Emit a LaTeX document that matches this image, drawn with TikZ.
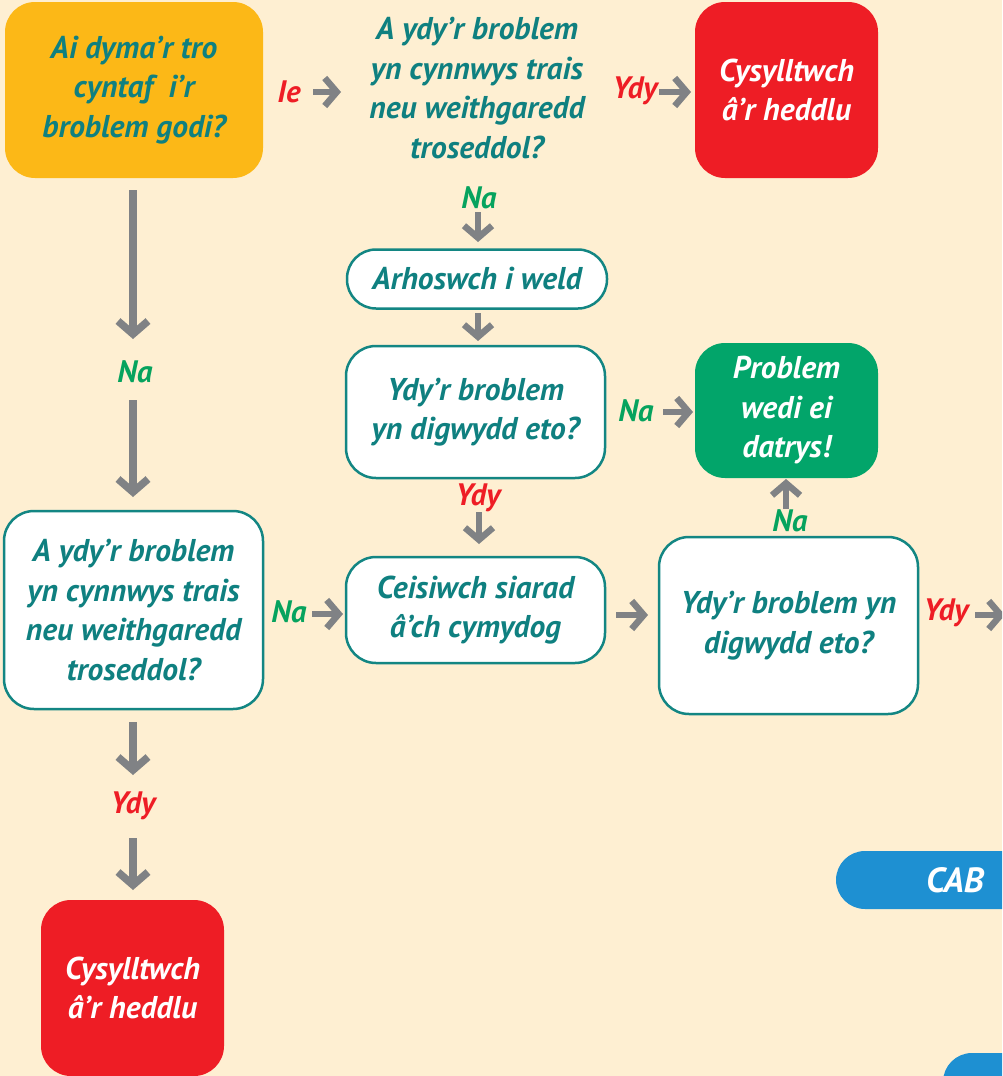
\documentclass[tikz,border=0pt]{standalone}
\usepackage{fontspec}
\setmainfont{PT Sans}
\usetikzlibrary{arrows.meta}
\definecolor{bg}{HTML}{FEEFD2}
\definecolor{orangebox}{HTML}{FCB817}
\definecolor{tealtext}{HTML}{0F8080}
\definecolor{tealline}{HTML}{138683}
\definecolor{redbox}{HTML}{EE1D25}
\definecolor{greenbox}{HTML}{02A56A}
\definecolor{greentext}{HTML}{06A35E}
\definecolor{arrgray}{HTML}{808285}
\definecolor{bluetab}{HTML}{1E90D2}
\begin{document}
\begin{tikzpicture}[x=1pt,y=-1pt,
  txt/.style={font=\fontsize{31.5}{39.5}\selectfont\bfseries\itshape, align=center, inner sep=0pt},
  box/.style={txt, rounded corners=30pt},
  wbox/.style={box, fill=white, draw=tealline, line width=2.5pt, text=tealtext},
  lab/.style={font=\fontsize{31}{34}\selectfont\bfseries\itshape, inner sep=0pt},
  yes/.style={lab, text=redbox},
  no/.style={lab, text=greentext},
  arr/.style={draw=arrgray, line width=6.5pt, -{Straight Barb[length=12pt,width=28pt]}},
  longarr/.style={draw=arrgray, line width=7.5pt, -{Straight Barb[length=13pt,width=30pt]}}
]
\useasboundingbox (0,0) rectangle (1002,1076);
\clip (0,0) rectangle (1002,1076);
\fill[bg] (0,0) rectangle (1002,1076);

% boxes
\node[box, fill=orangebox, text=tealtext, minimum width=258pt, minimum height=176pt] (n1) at (134,90)
  {Ai dyma’r tro\\cyntaf\ \ i’r\\broblem godi?};
\node[txt, text=tealtext, minimum width=260pt] (q2) at (477,88)
  {A ydy’r broblem\\yn cynnwys trais\\neu weithgaredd\\troseddol?};
\node[box, fill=redbox, text=white, minimum width=183pt, minimum height=176pt] (r1) at (786.5,90)
  {Cysylltwch\\â’r heddlu};
\node[wbox, rounded corners=29pt, minimum width=260pt, minimum height=59pt] (wait) at (477,279)
  {Arhoswch i weld};
\node[wbox, minimum width=259pt, minimum height=132pt] (q3) at (475.5,412)
  {Ydy’r broblem\\yn digwydd eto?};
\node[box, fill=greenbox, text=white, minimum width=183pt, minimum height=135pt] (g1) at (786.5,410.5)
  {Problem\\wedi ei\\datrys!};
\node[wbox, minimum width=259pt, minimum height=106pt] (c1) at (475.5,610)
  {Ceisiwch siarad\\â’ch cymydog};
\node[wbox, minimum width=259pt, minimum height=177pt] (q4) at (788.5,625.5)
  {Ydy’r broblem yn\\digwydd eto?};
\node[wbox, minimum width=259pt, minimum height=198pt] (q5) at (133.5,610)
  {A ydy’r broblem\\yn cynnwys trais\\neu weithgaredd\\troseddol?};
\node[box, fill=redbox, text=white, minimum width=183pt, minimum height=176pt] (r2) at (132.5,988)
  {Cysylltwch\\â’r heddlu};

% CAB tabs
\node[txt, fill=bluetab, text=white, rounded corners=29pt, minimum width=196pt, minimum height=58pt,
  font=\fontsize{35}{38}\selectfont\bfseries\itshape] (cab) at (934,880) {\hspace*{42pt}CAB};
\node[fill=bluetab, rounded corners=29pt, minimum width=90pt, minimum height=58pt, inner sep=0pt] (tab2) at (988,1082) {};

% labels
\node[yes] (ie) at (289,92) {Ie};
\node[yes] (ydy1) at (635,91) {Ydy};
\node[no] (na1) at (479,198) {Na};
\node[no] (na2) at (636,411) {Na};
\node[yes] (ydy2) at (478,498) {Ydy};
\node[no] (na3) at (790,521) {Na};
\node[yes] (ydy3) at (946,613) {Ydy};
\node[no] (na4) at (289,612) {Na};
\node[no] (na5) at (135,372) {Na};
\node[yes] (ydy4) at (133,806) {Ydy};

% arrow end points
\coordinate (a1s) at (313,92);  \coordinate (a1e) at (341,92);
\coordinate (a2s) at (659,92);  \coordinate (a2e) at (691,92);
\coordinate (a3s) at (478,212); \coordinate (a3e) at (478,242);
\coordinate (a4s) at (478,313); \coordinate (a4e) at (478,341);
\coordinate (a5s) at (663,412); \coordinate (a5e) at (693,412);
\coordinate (a6s) at (479,512); \coordinate (a6e) at (479,544);
\coordinate (a7s) at (786,509); \coordinate (a7e) at (786,479);
\coordinate (a8s) at (616,615); \coordinate (a8e) at (648,615);
\coordinate (a9s) at (975,615); \coordinate (a9e) at (1005,615);
\coordinate (a10s) at (312,614); \coordinate (a10e) at (343,614);
\coordinate (a11s) at (133,190); \coordinate (a11e) at (133,339);
\coordinate (a12s) at (133,400); \coordinate (a12e) at (133,497);
\coordinate (a13s) at (133,722); \coordinate (a13e) at (133,775);
\coordinate (a14s) at (133,838); \coordinate (a14e) at (133,890);

\draw[arr] (a1s) -- (a1e);
\draw[arr] (a2s) -- (a2e);
\draw[arr] (a3s) -- (a3e);
\draw[arr] (a4s) -- (a4e);
\draw[arr] (a5s) -- (a5e);
\draw[arr] (a6s) -- (a6e);
\draw[arr] (a7s) -- (a7e);
\draw[arr] (a8s) -- (a8e);
\draw[arr] (a9s) -- (a9e);
\draw[arr] (a10s) -- (a10e);
\draw[longarr] (a11s) -- (a11e);
\draw[longarr] (a12s) -- (a12e);
\draw[longarr] (a13s) -- (a13e);
\draw[longarr] (a14s) -- (a14e);
\end{tikzpicture}
\end{document}
